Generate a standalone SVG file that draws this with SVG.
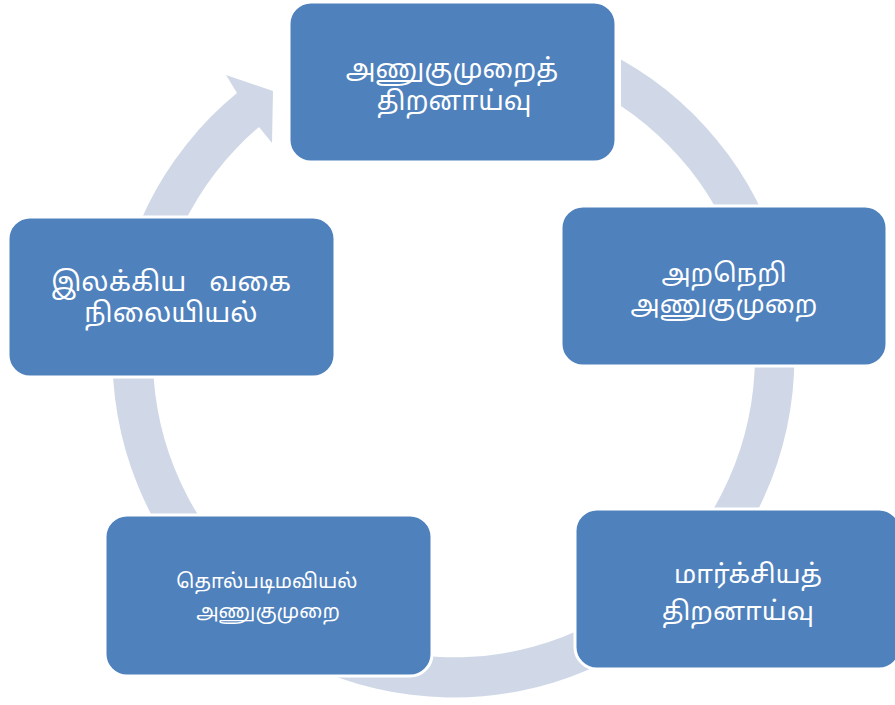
<svg xmlns="http://www.w3.org/2000/svg" width="895" height="705" viewBox="0 0 895 705">
<style>
.node{fill:#4F81BD;stroke:#FFFFFF;stroke-width:3}
.ring{fill:#D0D8E8;stroke:none}
.t{fill:#FFFFFF;font-family:"Noto Sans Tamil","Latha","Noto Sans","DejaVu Sans",sans-serif;text-anchor:middle}
</style>
<rect width="895" height="705" fill="#FFFFFF"/>
<g id="connectors">
<path class="ring" d="M 621 59.5 A 341 341 0 1 1 237 93 L 226 75 L 273 91 L 272 143 L 259 127 A 301 301 0 1 0 621 106 Z"/>
</g>
<g id="node1">
<rect class="node" x="289" y="2" width="327" height="160" rx="22"/>
<text class="t" font-size="26.5" x="452" y="78">அணுகுமுறைத்</text>
<text class="t" font-size="26.5" x="454" y="110">திறனாய்வு</text>
</g>
<g id="node2">
<rect class="node" x="561" y="206" width="326" height="160" rx="22"/>
<text class="t" font-size="26" x="724" y="282">அறநெறி</text>
<text class="t" font-size="26" x="724" y="313">அணுகுமுறை</text>
</g>
<g id="node3">
<rect class="node" x="575" y="509" width="326" height="160" rx="22"/>
<text class="t" font-size="26" x="748" y="583">மார்க்சியத்</text>
<text class="t" font-size="26" x="738" y="620">திறனாய்வு</text>
</g>
<g id="node4">
<rect class="node" x="105" y="515" width="327" height="161" rx="22"/>
<text class="t" font-size="20" x="267" y="588">தொல்படிமவியல்</text>
<text class="t" font-size="20" x="268" y="618">அணுகுமுறை</text>
</g>
<g id="node5">
<rect class="node" x="8" y="217" width="327" height="160" rx="22"/>
<text class="t" font-size="27" x="171" y="291" word-spacing="16">இலக்கிய வகை</text>
<text class="t" font-size="27" x="171" y="322">நிலையியல்</text>
</g>
</svg>
